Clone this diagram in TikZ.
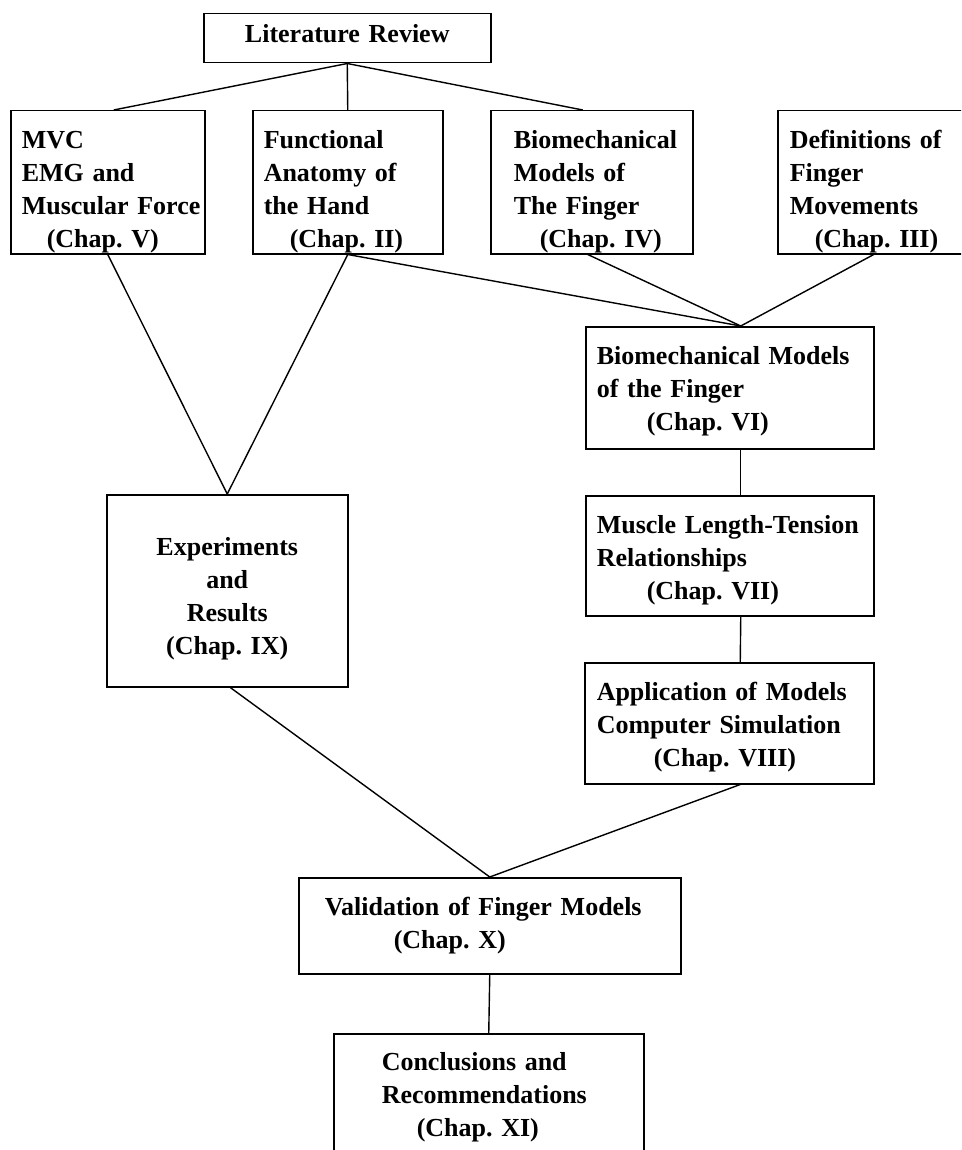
\documentclass[tikz,border=0pt]{standalone}
\usepackage{fontspec}
\setmainfont{Liberation Serif}
\hyphenpenalty=10000
\exhyphenpenalty=10000
\frenchspacing

\tikzset{
    chapbox/.style={draw, line width=1.5pt, anchor=north west, align=left, inner ysep=0pt,
        font=\bfseries\fontsize{26}{33}\selectfont},
    link/.style={line width=1.4pt}
}

\begin{document}
\begin{tikzpicture}[x=1pt, y=-1pt]
    \useasboundingbox (0,0) rectangle (961,1150);
    \clip (0,0) rectangle (961,1150);

    % Literature review
    \node[chapbox, align=center, inner xsep=4pt, text width=279pt, text height=29pt, text depth=20pt] (lit) at (203,13) {Literature Review};

    % Second row
    \node[chapbox, inner xsep=11pt, text width=172pt, text height=38pt, text depth=105pt] (mvc) at (10,110)
        {MVC\\EMG and\\Muscular~Force\\\hspace*{25pt}(Chap. V)};
    \node[chapbox, inner xsep=11pt, text width=168pt, text height=38pt, text depth=105pt] (anat) at (252,110)
        {Functional\\Anatomy of\\the Hand\\\hspace*{26pt}(Chap. II)};
    \node[chapbox, inner xsep=23pt, text width=156pt, text height=38pt, text depth=105pt] (biomod) at (490,110)
        {Biomechanical\\Models of\\The Finger\\\hspace*{26pt}(Chap. IV)};
    \node[chapbox, inner xsep=12pt, text width=168pt, text height=38pt, text depth=105pt] (defs) at (777,110)
        {Definitions of\\Finger\\Movements\\\hspace*{25pt}(Chap. III)};

    % Right column
    \node[chapbox, inner xsep=11pt, text width=266pt, text height=38pt, text depth=84pt] (fingmod) at (585,326)
        {Biomechanical Models\\of the Finger\\\hspace*{50pt}(Chap. VI)};
    \node[chapbox, inner xsep=11pt, text width=266pt, text height=38pt, text depth=82pt] (tension) at (585,495)
        {Muscle Length-Tension\\Relationships\\\hspace*{50pt}(Chap. VII)};
    \node[chapbox, inner xsep=12pt, text width=265pt, text height=38pt, text depth=83pt] (simul) at (584,662)
        {Application of Models\\Computer Simulation\\\hspace*{57pt}(Chap. VIII)};

    % Left column
    \node[chapbox, align=center, inner xsep=10pt, text width=221pt, text height=61pt, text depth=131pt] (expt) at (106,494)
        {Experiments\\and\\Results\\(Chap. IX)};

    % Bottom
    \node[chapbox, inner xsep=26pt, text width=330pt, text height=38pt, text depth=58pt] (valid) at (298,877)
        {Validation of Finger Models\\\hspace*{69pt}(Chap. X)};
    \node[chapbox, inner xsep=48pt, text width=214pt, text height=37pt, text depth=93pt] (concl) at (333,1033)
        {Conclusions and\\Recommendations\\\hspace*{35pt}(Chap. XI)};

    % Connectors
    \draw[link] (lit.south) -- ([xshift=6pt]mvc.north);
    \draw[link] (lit.south) -- (anat.north);
    \draw[link] (lit.south) -- ([xshift=-9pt]biomod.north);
    \draw[link] (mvc.south) -- (expt.north);
    \draw[link] (anat.south) -- (expt.north);
    \draw[link] (anat.south) -- ([xshift=11pt]fingmod.north);
    \draw[link] ([xshift=-4pt]biomod.south) -- ([xshift=11pt]fingmod.north);
    \draw[link] (defs.south) -- ([xshift=11pt]fingmod.north);
    \draw[link] ([xshift=11pt]fingmod.south) -- ([xshift=11pt]tension.north);
    \draw[link] ([xshift=11pt]tension.south) -- ([xshift=11pt]simul.north);
    \draw[link] ([xshift=3pt]expt.south) -- (valid.north);
    \draw[link] ([xshift=11pt]simul.south) -- (valid.north);
    \draw[link] (valid.south) -- (concl.north);
\end{tikzpicture}
\end{document}
